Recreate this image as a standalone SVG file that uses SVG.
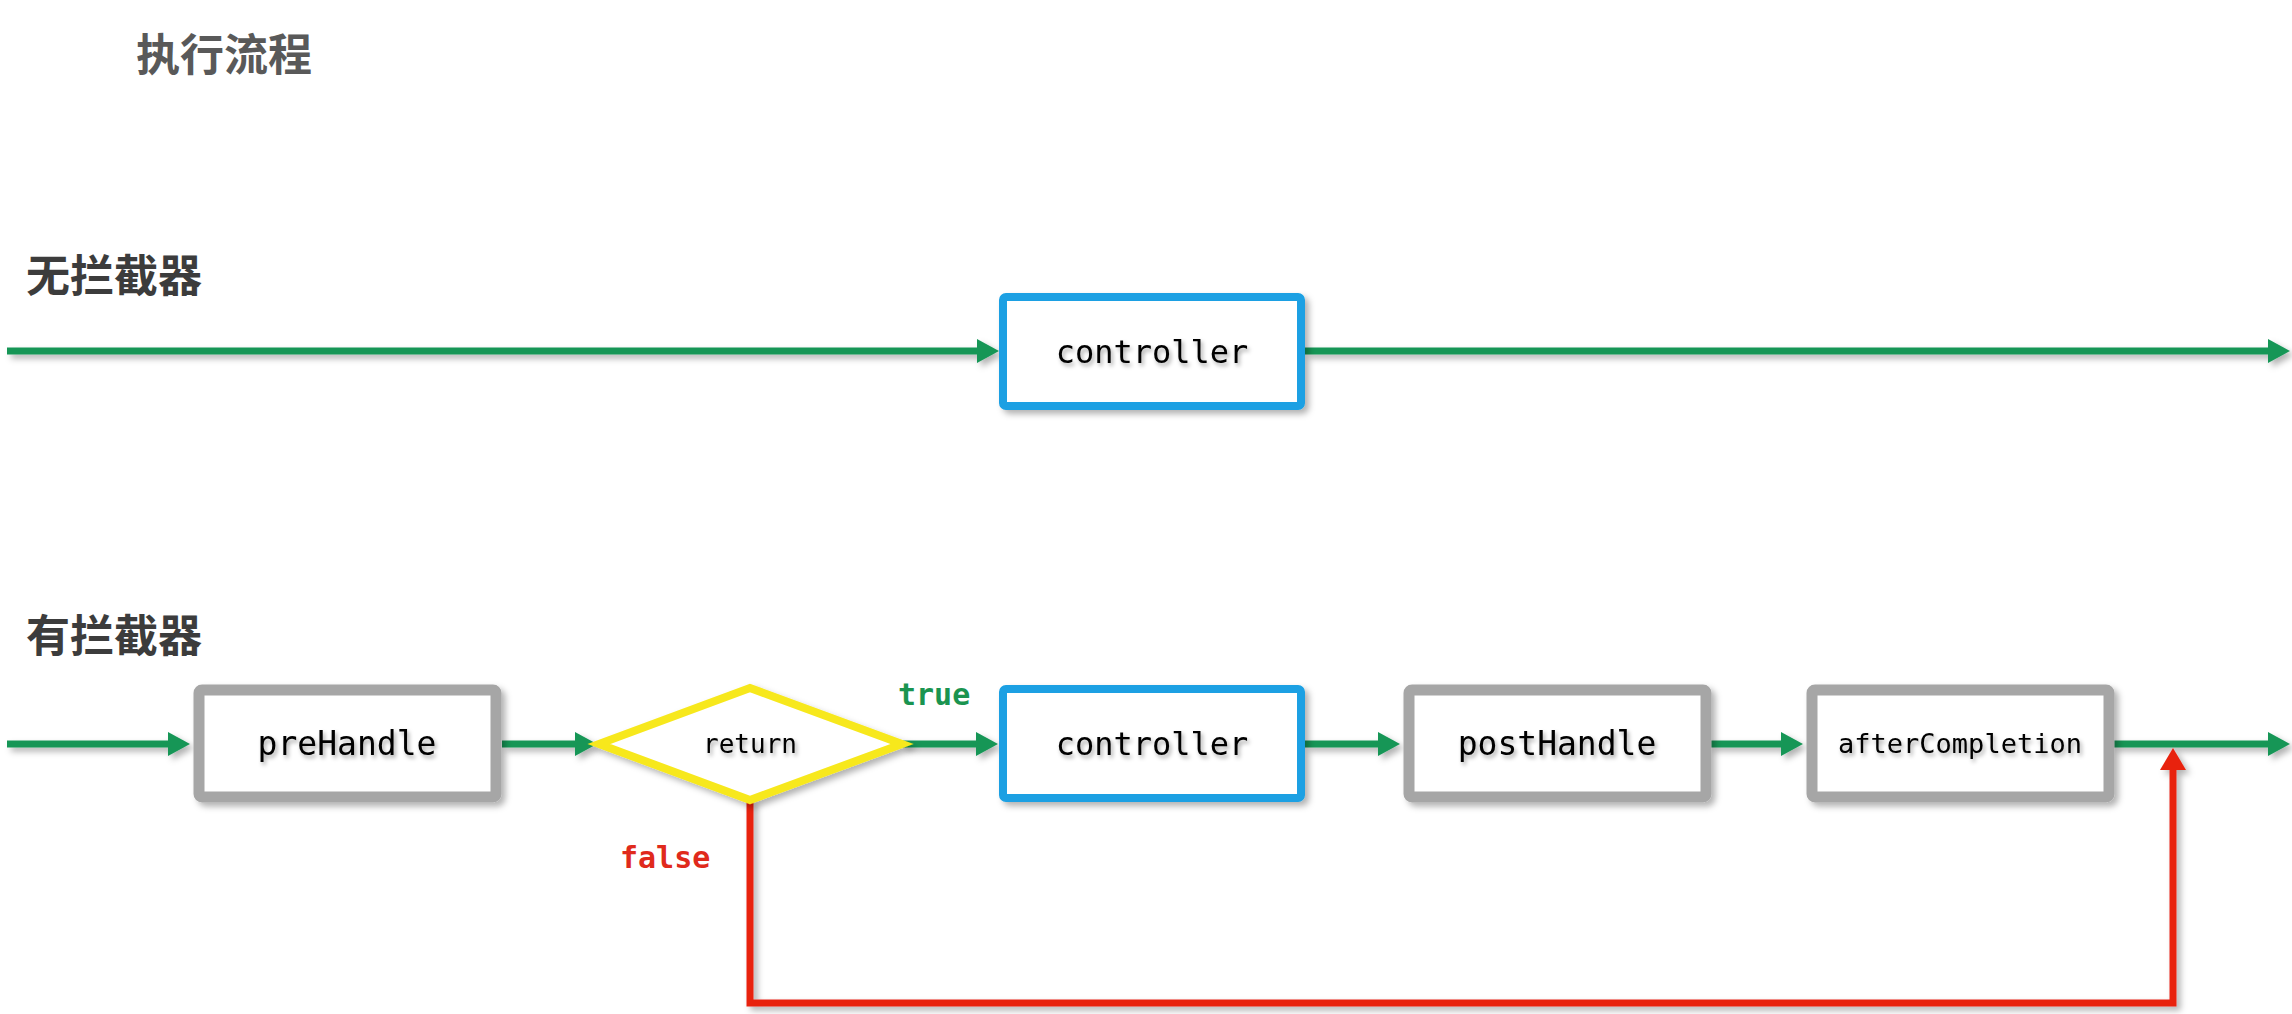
<svg xmlns="http://www.w3.org/2000/svg" width="2292" height="1014" viewBox="0 0 2292 1014">
<style>
.h{font-family:"Noto Sans CJK SC","Noto Sans",sans-serif;font-weight:bold;font-size:44px}
.m{font-family:"DejaVu Sans Mono","Liberation Mono",monospace;fill:#000;text-anchor:middle}
.g{fill:none;stroke:#179657;stroke-width:7}
.r{fill:none;stroke:#e8220f;stroke-width:7}
.box{fill:#fff;stroke:#a6a6a6;stroke-width:11}
.blue{fill:#fff;stroke:#1aa0e3;stroke-width:8}
</style>
<defs>
<filter id="sh" x="-10%" y="-30%" width="130%" height="170%">
<feDropShadow dx="4" dy="4" stdDeviation="3" flood-color="#000" flood-opacity="0.3"/>
</filter>
<filter id="ts" x="-10%" y="-30%" width="130%" height="170%">
<feDropShadow dx="2" dy="3" stdDeviation="2" flood-color="#000" flood-opacity="0.35"/>
</filter>
<marker id="ag" viewBox="0 0 22 24" refX="2" refY="12" markerWidth="22" markerHeight="24" markerUnits="userSpaceOnUse" orient="auto">
<path d="M0,0 L22,12 L0,24 z" fill="#179657"/>
</marker>
<marker id="ar" viewBox="0 0 22 26" refX="2" refY="13" markerWidth="22" markerHeight="26" markerUnits="userSpaceOnUse" orient="auto">
<path d="M0,0 L22,13 L0,26 z" fill="#e8220f"/>
</marker>
</defs>
<rect width="2292" height="1014" fill="#fff"/>
<text class="h" x="136" y="71" fill="#595959">执行流程</text>
<text class="h" x="26" y="292" fill="#3c3c3c">无拦截器</text>
<text class="h" x="26" y="652" fill="#3c3c3c">有拦截器</text>

<g id="connectors" filter="url(#sh)">
<line class="g" x1="7" y1="351" x2="979" y2="351" marker-end="url(#ag)"/>
<line class="g" x1="1305" y1="351" x2="2270" y2="351" marker-end="url(#ag)"/>
<line class="g" x1="7" y1="744" x2="170" y2="744" marker-end="url(#ag)"/>
<line class="g" x1="502" y1="744" x2="577" y2="744" marker-end="url(#ag)"/>
<line class="g" x1="902" y1="744" x2="978" y2="744" marker-end="url(#ag)"/>
<line class="g" x1="1305" y1="744" x2="1380" y2="744" marker-end="url(#ag)"/>
<line class="g" x1="1710" y1="744" x2="1783" y2="744" marker-end="url(#ag)"/>
<line class="g" x1="2113" y1="744" x2="2270" y2="744" marker-end="url(#ag)"/>
<path class="r" d="M750,800 V1003 H2173 V768" marker-end="url(#ar)"/>
</g>
<text x="898" y="705" font-family="DejaVu Sans Mono,monospace" font-weight="bold" font-size="30" fill="#1a9450">true</text>
<text x="620" y="868" font-family="DejaVu Sans Mono,monospace" font-weight="bold" font-size="30" fill="#e02a1c">false</text>

<g id="controller1">
<rect class="blue" x="1003" y="297" width="298" height="109" rx="3" filter="url(#sh)"/>
<text class="m" x="1152" y="363" font-size="32" filter="url(#ts)">controller</text>
</g>
<g id="preHandle">
<rect class="box" x="199" y="690" width="297" height="107" rx="3" filter="url(#sh)"/>
<text class="m" x="347" y="755" font-size="33" filter="url(#ts)">preHandle</text>
</g>
<g id="return">
<polygon points="599,744 750,688 902,744 750,800" fill="#fff" stroke="#f7e81e" stroke-width="8" filter="url(#sh)"/>
<text class="m" x="750" y="753" font-size="26" filter="url(#ts)">return</text>
</g>
<g id="controller2">
<rect class="blue" x="1003" y="689" width="298" height="109" rx="3" filter="url(#sh)"/>
<text class="m" x="1152" y="755" font-size="32" filter="url(#ts)">controller</text>
</g>
<g id="postHandle">
<rect class="box" x="1409" y="690" width="297" height="107" rx="3" filter="url(#sh)"/>
<text class="m" x="1557" y="755" font-size="33" filter="url(#ts)">postHandle</text>
</g>
<g id="afterCompletion">
<rect class="box" x="1812" y="690" width="297" height="107" rx="3" filter="url(#sh)"/>
<text class="m" x="1960" y="753" font-size="27" filter="url(#ts)">afterCompletion</text>
</g>
</svg>
